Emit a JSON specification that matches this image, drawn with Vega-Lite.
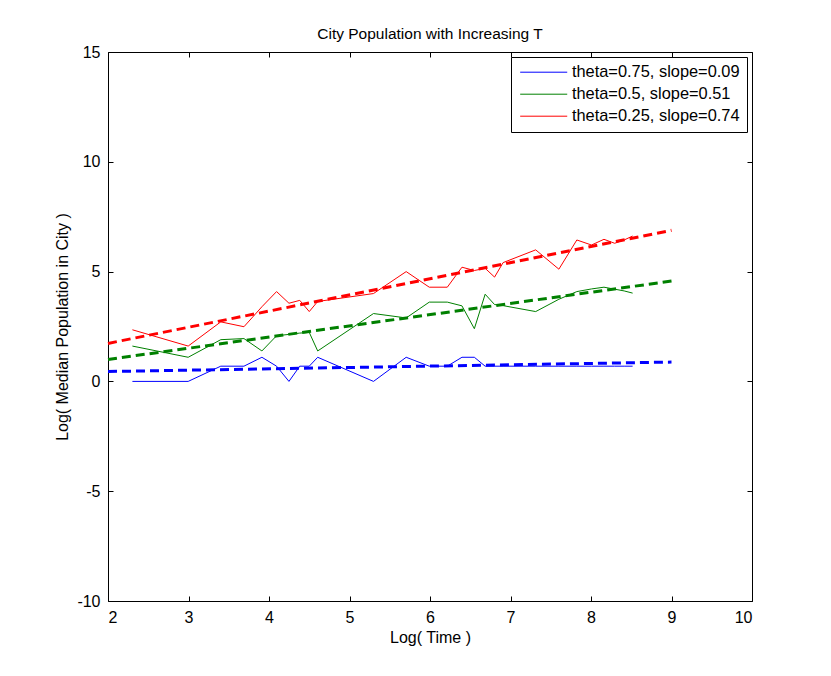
{
  "$schema": "https://vega.github.io/schema/vega-lite/v6.json",
  "width": 644,
  "height": 549,
  "autosize": "none",
  "padding": {"left": 108, "top": 52, "right": 79, "bottom": 75},
  "background": "white",
  "config": {
    "view": {"stroke": "black", "strokeWidth": 1},
    "font": "Liberation Sans",
    "axis": {
      "domain": false,
      "grid": false,
      "tickColor": "black",
      "tickSize": -5,
      "labelColor": "black",
      "labelFontSize": 16,
      "labelFont": "Liberation Sans",
      "titleFont": "Liberation Sans",
      "titleFontSize": 16,
      "titleFontWeight": "normal",
      "titleColor": "black"
    }
  },
  "title": {
    "text": "City Population with Increasing T",
    "fontSize": 15.5,
    "fontWeight": "normal",
    "font": "Liberation Sans",
    "color": "black",
    "offset": 2
  },
  "datasets": {
    "sim": [
      {"series": "theta=0.75, slope=0.09", "logT": 2.303, "logPop": 0},
      {"series": "theta=0.75, slope=0.09", "logT": 2.996, "logPop": 0},
      {"series": "theta=0.75, slope=0.09", "logT": 3.401, "logPop": 0.693},
      {"series": "theta=0.75, slope=0.09", "logT": 3.689, "logPop": 0.693},
      {"series": "theta=0.75, slope=0.09", "logT": 3.912, "logPop": 1.099},
      {"series": "theta=0.75, slope=0.09", "logT": 4.094, "logPop": 0.693},
      {"series": "theta=0.75, slope=0.09", "logT": 4.248, "logPop": 0},
      {"series": "theta=0.75, slope=0.09", "logT": 4.382, "logPop": 0.693},
      {"series": "theta=0.75, slope=0.09", "logT": 4.5, "logPop": 0.693},
      {"series": "theta=0.75, slope=0.09", "logT": 4.605, "logPop": 1.099},
      {"series": "theta=0.75, slope=0.09", "logT": 5.298, "logPop": 0},
      {"series": "theta=0.75, slope=0.09", "logT": 5.704, "logPop": 1.099},
      {"series": "theta=0.75, slope=0.09", "logT": 5.991, "logPop": 0.693},
      {"series": "theta=0.75, slope=0.09", "logT": 6.215, "logPop": 0.693},
      {"series": "theta=0.75, slope=0.09", "logT": 6.397, "logPop": 1.099},
      {"series": "theta=0.75, slope=0.09", "logT": 6.551, "logPop": 1.099},
      {"series": "theta=0.75, slope=0.09", "logT": 6.685, "logPop": 0.693},
      {"series": "theta=0.75, slope=0.09", "logT": 6.802, "logPop": 0.693},
      {"series": "theta=0.75, slope=0.09", "logT": 6.908, "logPop": 0.693},
      {"series": "theta=0.75, slope=0.09", "logT": 7.313, "logPop": 0.693},
      {"series": "theta=0.75, slope=0.09", "logT": 7.601, "logPop": 0.693},
      {"series": "theta=0.75, slope=0.09", "logT": 7.824, "logPop": 0.693},
      {"series": "theta=0.75, slope=0.09", "logT": 8.006, "logPop": 0.693},
      {"series": "theta=0.75, slope=0.09", "logT": 8.161, "logPop": 0.693},
      {"series": "theta=0.75, slope=0.09", "logT": 8.294, "logPop": 0.693},
      {"series": "theta=0.75, slope=0.09", "logT": 8.412, "logPop": 0.693},
      {"series": "theta=0.75, slope=0.09", "logT": 8.517, "logPop": 0.693},
      {"series": "theta=0.5, slope=0.51", "logT": 2.303, "logPop": 1.609},
      {"series": "theta=0.5, slope=0.51", "logT": 2.996, "logPop": 1.099},
      {"series": "theta=0.5, slope=0.51", "logT": 3.401, "logPop": 1.9},
      {"series": "theta=0.5, slope=0.51", "logT": 3.689, "logPop": 1.95},
      {"series": "theta=0.5, slope=0.51", "logT": 3.912, "logPop": 1.386},
      {"series": "theta=0.5, slope=0.51", "logT": 4.094, "logPop": 2.079},
      {"series": "theta=0.5, slope=0.51", "logT": 4.248, "logPop": 2.14},
      {"series": "theta=0.5, slope=0.51", "logT": 4.382, "logPop": 2.2},
      {"series": "theta=0.5, slope=0.51", "logT": 4.5, "logPop": 2.23},
      {"series": "theta=0.5, slope=0.51", "logT": 4.605, "logPop": 1.386},
      {"series": "theta=0.5, slope=0.51", "logT": 5.298, "logPop": 3.09},
      {"series": "theta=0.5, slope=0.51", "logT": 5.704, "logPop": 2.89},
      {"series": "theta=0.5, slope=0.51", "logT": 5.991, "logPop": 3.61},
      {"series": "theta=0.5, slope=0.51", "logT": 6.215, "logPop": 3.61},
      {"series": "theta=0.5, slope=0.51", "logT": 6.397, "logPop": 3.44},
      {"series": "theta=0.5, slope=0.51", "logT": 6.551, "logPop": 2.4},
      {"series": "theta=0.5, slope=0.51", "logT": 6.685, "logPop": 3.97},
      {"series": "theta=0.5, slope=0.51", "logT": 6.802, "logPop": 3.5},
      {"series": "theta=0.5, slope=0.51", "logT": 6.908, "logPop": 3.45},
      {"series": "theta=0.5, slope=0.51", "logT": 7.313, "logPop": 3.18},
      {"series": "theta=0.5, slope=0.51", "logT": 7.601, "logPop": 3.74},
      {"series": "theta=0.5, slope=0.51", "logT": 7.824, "logPop": 4.09},
      {"series": "theta=0.5, slope=0.51", "logT": 8.006, "logPop": 4.21},
      {"series": "theta=0.5, slope=0.51", "logT": 8.161, "logPop": 4.29},
      {"series": "theta=0.5, slope=0.51", "logT": 8.294, "logPop": 4.2},
      {"series": "theta=0.5, slope=0.51", "logT": 8.412, "logPop": 4.12},
      {"series": "theta=0.5, slope=0.51", "logT": 8.517, "logPop": 4.02},
      {"series": "theta=0.25, slope=0.74", "logT": 2.303, "logPop": 2.35},
      {"series": "theta=0.25, slope=0.74", "logT": 2.996, "logPop": 1.609},
      {"series": "theta=0.25, slope=0.74", "logT": 3.401, "logPop": 2.71},
      {"series": "theta=0.25, slope=0.74", "logT": 3.689, "logPop": 2.49},
      {"series": "theta=0.25, slope=0.74", "logT": 3.912, "logPop": 3.4},
      {"series": "theta=0.25, slope=0.74", "logT": 4.094, "logPop": 4.09},
      {"series": "theta=0.25, slope=0.74", "logT": 4.248, "logPop": 3.56},
      {"series": "theta=0.25, slope=0.74", "logT": 4.382, "logPop": 3.69},
      {"series": "theta=0.25, slope=0.74", "logT": 4.5, "logPop": 3.18},
      {"series": "theta=0.25, slope=0.74", "logT": 4.605, "logPop": 3.64},
      {"series": "theta=0.25, slope=0.74", "logT": 5.298, "logPop": 4.0},
      {"series": "theta=0.25, slope=0.74", "logT": 5.704, "logPop": 5.0},
      {"series": "theta=0.25, slope=0.74", "logT": 5.991, "logPop": 4.29},
      {"series": "theta=0.25, slope=0.74", "logT": 6.215, "logPop": 4.29},
      {"series": "theta=0.25, slope=0.74", "logT": 6.397, "logPop": 5.2},
      {"series": "theta=0.25, slope=0.74", "logT": 6.551, "logPop": 5.05},
      {"series": "theta=0.25, slope=0.74", "logT": 6.685, "logPop": 5.15},
      {"series": "theta=0.25, slope=0.74", "logT": 6.802, "logPop": 4.75},
      {"series": "theta=0.25, slope=0.74", "logT": 6.908, "logPop": 5.41},
      {"series": "theta=0.25, slope=0.74", "logT": 7.313, "logPop": 5.99},
      {"series": "theta=0.25, slope=0.74", "logT": 7.601, "logPop": 5.11},
      {"series": "theta=0.25, slope=0.74", "logT": 7.824, "logPop": 6.44},
      {"series": "theta=0.25, slope=0.74", "logT": 8.006, "logPop": 6.21},
      {"series": "theta=0.25, slope=0.74", "logT": 8.161, "logPop": 6.47},
      {"series": "theta=0.25, slope=0.74", "logT": 8.294, "logPop": 6.29},
      {"series": "theta=0.25, slope=0.74", "logT": 8.412, "logPop": 6.44},
      {"series": "theta=0.25, slope=0.74", "logT": 8.517, "logPop": 6.62}
    ],
    "fit": [
      {"series": "theta=0.75, slope=0.09", "logT": 2, "logPop": 0.45},
      {"series": "theta=0.75, slope=0.09", "logT": 9, "logPop": 0.88},
      {"series": "theta=0.5, slope=0.51", "logT": 2, "logPop": 1.0},
      {"series": "theta=0.5, slope=0.51", "logT": 9, "logPop": 4.57},
      {"series": "theta=0.25, slope=0.74", "logT": 2, "logPop": 1.73},
      {"series": "theta=0.25, slope=0.74", "logT": 9, "logPop": 6.88}
    ]
  },
  "layer": [
    {
      "data": {"name": "sim"},
      "mark": {"type": "line", "strokeWidth": 1},
      "encoding": {
        "x": {
          "field": "logT",
          "type": "quantitative",
          "scale": {"domain": [2, 10], "nice": false, "zero": false},
          "axis": {
            "title": "Log( Time )",
            "values": [2, 3, 4, 5, 6, 7, 8, 9, 10],
            "labelPadding": 13,
            "titlePadding": 4
          }
        },
        "y": {
          "field": "logPop",
          "type": "quantitative",
          "scale": {"domain": [-10, 15], "nice": false, "zero": false},
          "axis": {
            "title": "Log( Median Population in City )",
            "values": [-10, -5, 0, 5, 10, 15],
            "labelExpr": "datum.value < 0 ? '-' + abs(datum.value) : '' + datum.value",
            "labelPadding": 13,
            "titlePadding": 6
          }
        },
        "color": {
          "field": "series",
          "type": "nominal",
          "scale": {
            "domain": ["theta=0.75, slope=0.09", "theta=0.5, slope=0.51", "theta=0.25, slope=0.74"],
            "range": ["#0000ff", "#008000", "#ff0000"]
          },
          "legend": {
            "title": null,
            "orient": "top-right",
            "offset": 5,
            "strokeColor": "black",
            "fillColor": "white",
            "padding": 7,
            "symbolType": "M-3.36,0H3.36",
            "symbolSize": 196,
            "symbolStrokeWidth": 1,
            "symbolOffset": 17.5,
            "labelFontSize": 16.4,
            "labelFont": "Liberation Sans",
            "labelColor": "black",
            "labelOffset": 20,
            "labelLimit": 400,
            "rowPadding": 5
          }
        },
        "order": {"field": "logT", "type": "quantitative"}
      }
    },
    {
      "data": {"name": "fit"},
      "mark": {"type": "line", "strokeWidth": 3, "strokeDash": [9, 5]},
      "encoding": {
        "x": {
          "field": "logT",
          "type": "quantitative",
          "axis": {"orient": "top", "values": [2, 3, 4, 5, 6, 7, 8, 9, 10], "labels": false, "title": null}
        },
        "y": {
          "field": "logPop",
          "type": "quantitative",
          "axis": {"orient": "right", "values": [-10, -5, 0, 5, 10, 15], "labels": false, "title": null}
        },
        "color": {"field": "series", "type": "nominal"}
      }
    }
  ],
  "resolve": {"axis": {"x": "independent", "y": "independent"}}
}
